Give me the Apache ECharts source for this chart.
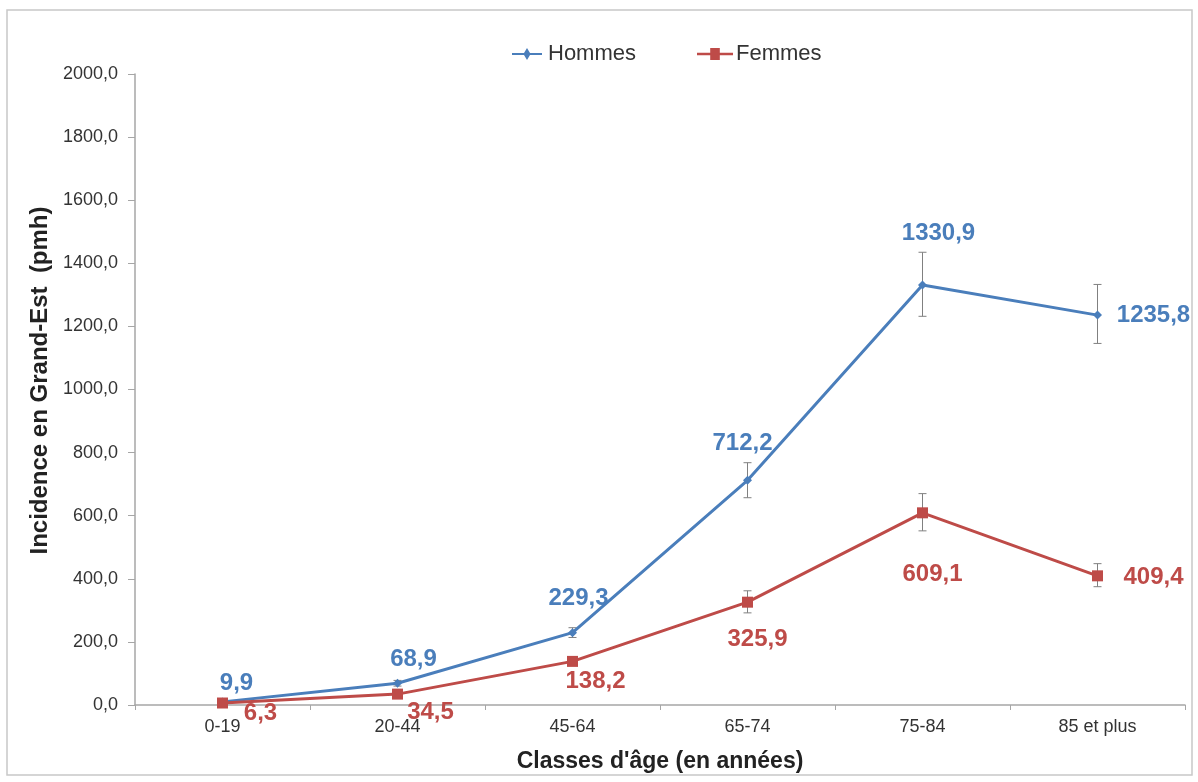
<!DOCTYPE html>
<html>
<head>
<meta charset="utf-8">
<script src="https://cdn.jsdelivr.net/npm/echarts@6/dist/echarts.min.js"></script>
<style>
  html, body { margin: 0; padding: 0; background: #fff; }
  #chart { width: 1198px; height: 782px; }
</style>
</head>
<body>
<div id="chart"></div>
<script>
// Age classes and incidence per million inhabitants (pmh)
const categories = ['0-19', '20-44', '45-64', '65-74', '75-84', '85 et plus'];
const hommes = [9.9, 68.9, 229.3, 712.2, 1330.9, 1235.8];
const femmes = [6.3, 34.5, 138.2, 325.9, 609.1, 409.4];
// Confidence interval bounds
const hommesLow  = [6.0, 60.0, 214.0, 657.0, 1232.0, 1146.0];
const hommesHigh = [14.0, 78.0, 245.0, 768.0, 1435.0, 1333.0];
const femmesLow  = [3.5, 28.0, 127.0, 292.0, 552.0, 375.0];
const femmesHigh = [9.5, 41.0, 150.0, 362.0, 670.0, 448.0];
const yTicks = [0, 200, 400, 600, 800, 1000, 1200, 1400, 1600, 1800, 2000];

const BLUE = '#4a7ebb';
const RED = '#be4b48';
const FONT = '"Liberation Sans", Arial, sans-serif';

const fmt = v => v.toFixed(1).replace('.', ',');

// label centre offsets from each point, in pixels
const hLabelOffset = [[14, -19], [16, -24], [6, -34], [-5, -37], [16, -52], [56, 0]];
const fLabelOffset = [[38, 10], [33, 18], [23, 20], [10, 37], [10, 62], [56, 2]];

function errorSeries(low, high) {
  return {
    type: 'custom',
    z: 1,
    silent: true,
    data: low.map((l, i) => [i, l, high[i]]),
    renderItem: function (params, api) {
      const x = api.value(0);
      const lo = api.coord([x, api.value(1)]);
      const hi = api.coord([x, api.value(2)]);
      const w = 4;
      const style = { stroke: '#808080', lineWidth: 1 };
      return {
        type: 'group',
        children: [
          { type: 'line', shape: { x1: hi[0], y1: hi[1], x2: lo[0], y2: lo[1] }, style: style },
          { type: 'line', shape: { x1: hi[0] - w, y1: hi[1], x2: hi[0] + w, y2: hi[1] }, style: style },
          { type: 'line', shape: { x1: lo[0] - w, y1: lo[1], x2: lo[0] + w, y2: lo[1] }, style: style }
        ]
      };
    }
  };
}

function lineData(values, offsets) {
  return values.map((v, i) => ({
    value: v,
    label: { position: 'inside', offset: offsets[i] }
  }));
}

const chart = echarts.init(document.getElementById('chart'), null, { renderer: 'canvas' });

chart.setOption({
  backgroundColor: '#fff',
  animation: false,
  textStyle: { fontFamily: FONT },
  graphic: [{
    type: 'rect',
    shape: { x: 7, y: 10, width: 1185, height: 765 },
    style: { fill: 'none', stroke: '#c8c8c8', lineWidth: 1.5 },
    silent: true
  }],
  legend: {
    top: 38,
    left: 507,
    itemGap: 61,
    itemWidth: 38,
    itemHeight: 12,
    textStyle: { fontSize: 22, color: '#333', fontFamily: FONT, padding: [0, 0, 0, -3] },
    data: [
      { name: 'Hommes', icon: 'path://M0,5 L12,5 L15,0 L18,5 L30,5 L30,7 L18,7 L15,12 L12,7 L0,7 Z' },
      { name: 'Femmes', icon: 'path://M0,5 L11,5 L11,1 L19,1 L19,5 L30,5 L30,7 L19,7 L19,11 L11,11 L11,7 L0,7 Z' }
    ]
  },
  grid: { left: 135, right: 13, top: 74, bottom: 77 },
  xAxis: {
    type: 'category',
    data: categories,
    boundaryGap: true,
    name: "Classes d'âge (en années)",
    nameLocation: 'middle',
    nameGap: 45,
    nameTextStyle: { fontSize: 23, fontWeight: 'bold', color: '#222', fontFamily: FONT },
    axisLine: { lineStyle: { color: '#a6a6a6', width: 1.5 } },
    axisTick: { show: true, length: 5, lineStyle: { color: '#a6a6a6' } },
    axisLabel: { fontSize: 18, color: '#333', margin: 13, fontFamily: FONT }
  },
  yAxis: {
    type: 'value',
    min: yTicks[0],
    max: yTicks[yTicks.length - 1],
    interval: yTicks[1] - yTicks[0],
    name: 'Incidence en Grand-Est  (pmh)',
    nameLocation: 'middle',
    nameGap: 82,
    nameTextStyle: { fontSize: 24, fontWeight: 'bold', color: '#222', fontFamily: FONT, padding: [0, 0, 0, 18] },
    splitLine: { show: false },
    axisLine: { show: true, lineStyle: { color: '#a6a6a6', width: 1.5 } },
    axisTick: { show: true, length: 7, lineStyle: { color: '#a6a6a6' } },
    axisLabel: { fontSize: 18, color: '#333', margin: 17, formatter: v => fmt(v), fontFamily: FONT }
  },
  series: [
    errorSeries(hommesLow, hommesHigh),
    errorSeries(femmesLow, femmesHigh),
    {
      name: 'Hommes',
      type: 'line',
      z: 3,
      data: lineData(hommes, hLabelOffset),
      symbol: 'diamond',
      symbolSize: 9,
      lineStyle: { color: BLUE, width: 3 },
      itemStyle: { color: BLUE },
      label: {
        show: true,
        fontSize: 24,
        fontWeight: 'bold',
        color: BLUE,
        fontFamily: FONT,
        formatter: p => fmt(p.value)
      }
    },
    {
      name: 'Femmes',
      type: 'line',
      z: 4,
      data: lineData(femmes, fLabelOffset),
      symbol: 'rect',
      symbolSize: 11,
      lineStyle: { color: RED, width: 3 },
      itemStyle: { color: RED },
      label: {
        show: true,
        fontSize: 24,
        fontWeight: 'bold',
        color: RED,
        fontFamily: FONT,
        formatter: p => fmt(p.value)
      }
    }
  ]
});
</script>
</body>
</html>
